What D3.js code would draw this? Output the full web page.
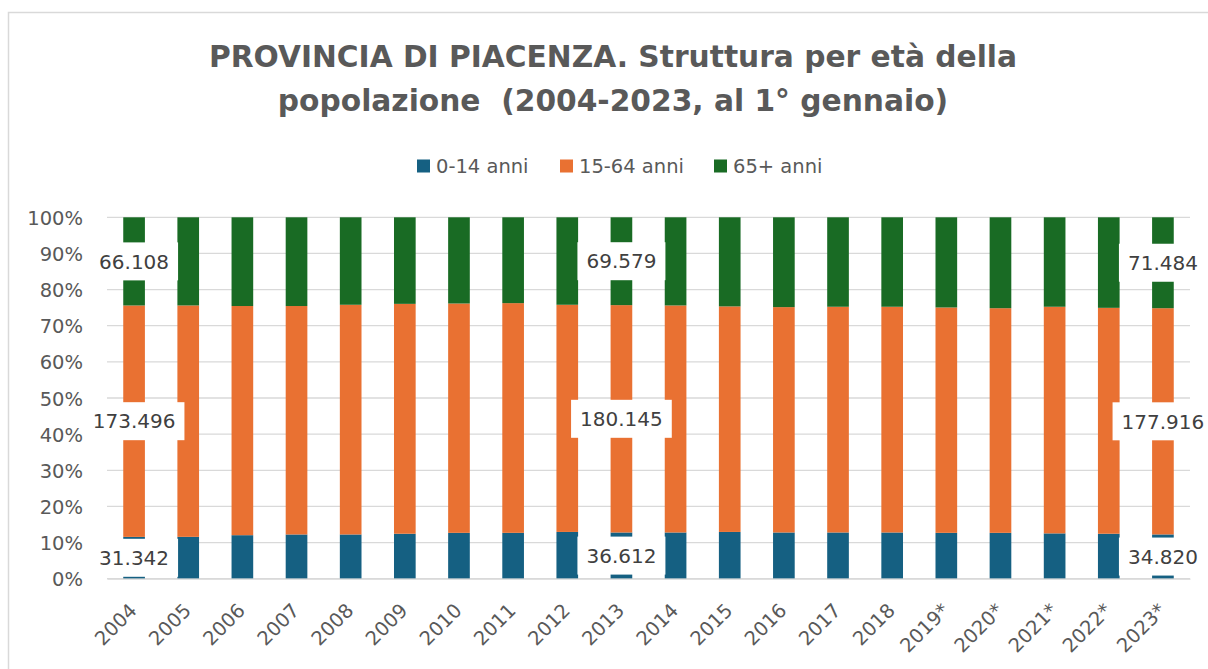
<!DOCTYPE html>
<html>
<head>
<meta charset="utf-8">
<script src="https://cdn.jsdelivr.net/npm/d3@7"></script>
<style>
  html, body { margin: 0; padding: 0; background: #ffffff; }
  svg { display: block; font-family: "DejaVu Sans", sans-serif; }
</style>
</head>
<body>
<svg id="chart" width="1208" height="669"></svg>
<script>
// ---- DATA ----
const years = ["2004","2005","2006","2007","2008","2009","2010","2011","2012","2013",
               "2014","2015","2016","2017","2018","2019*","2020*","2021*","2022*","2023*"];
const age0_14  = [31342, 31693, 33214, 34055, 34470, 35571, 36674, 36785, 36829, 36612,
                  36837, 37170, 36676, 36653, 36679, 36216, 36118, 35508, 35205, 34820];
const age15_64 = [173496, 175243, 174923, 175869, 178995, 181884, 183399, 184245, 178910, 180145,
                  180930, 179270, 178822, 178993, 179123, 177972, 176917, 177569, 176903, 177916];
const age65    = [66108, 66753, 67724, 68305, 68151, 68482, 68927, 68845, 68877, 69579,
                  70246, 70806, 71260, 70926, 70979, 71206, 71581, 70082, 70892, 71484];
const seriesNames = ["0-14 anni", "15-64 anni", "65+ anni"];
const labeledYears = ["2004", "2013", "2023*"];
const yTicks = [0, 0.1, 0.2, 0.3, 0.4, 0.5, 0.6, 0.7, 0.8, 0.9, 1.0];
const titleLines = ["PROVINCIA DI PIACENZA. Struttura per età della",
                    "popolazione  (2004-2023, al 1° gennaio)"];

// ---- SETUP ----
const colors = ["#156082", "#E97132", "#196B24"];
const textColor = "#595959";
const svg = d3.select("#chart");

// chart frame
svg.append("path")
  .attr("d", "M8.5,669 L8.5,12.5 L1208,12.5")
  .attr("fill", "none").attr("stroke", "#d9d9d9").attr("stroke-width", 1.5);

const rows = years.map((y, i) => ({ year: y, a: age0_14[i], b: age15_64[i], c: age65[i] }));
const keys = ["a", "b", "c"];
const stacked = d3.stack().keys(keys).offset(d3.stackOffsetExpand)(rows);

const x = d3.scaleBand().domain(years).range([107, 1190]).paddingInner(0.6).paddingOuter(0.3);
const y = d3.scaleLinear().domain([0, 1]).range([578.7, 217.3]);

// title
svg.append("g").selectAll("text").data(titleLines).join("text")
  .attr("x", 613).attr("y", (d, i) => 67 + i * 44)
  .attr("text-anchor", "middle")
  .attr("font-size", 29.7).attr("font-weight", "bold")
  .attr("fill", textColor)
  .style("white-space", "pre")
  .text(d => d);

// legend
const legendX = [417, 560, 714];
const lg = svg.append("g").selectAll("g").data(seriesNames).join("g")
  .attr("transform", (d, i) => `translate(${legendX[i]},0)`);
lg.append("rect").attr("x", 0).attr("y", 159.5).attr("width", 13).attr("height", 13)
  .attr("fill", (d, i) => colors[i]);
lg.append("text").attr("x", 19).attr("y", 173).attr("font-size", 19.5)
  .attr("fill", textColor).text(d => d);

// gridlines
const yAxis = d3.axisLeft(y).tickValues(yTicks).tickFormat(d3.format(".0%")).tickSize(0);
const yg = svg.append("g").attr("transform", "translate(83,0)").call(yAxis);
yg.select(".domain").remove();
yg.selectAll("text").attr("font-size", 19.5).attr("fill", textColor)
  .attr("font-family", "DejaVu Sans").attr("x", 0).attr("dy", "0.36em");

svg.append("g").selectAll("line").data(yTicks).join("line")
  .attr("x1", 107).attr("x2", 1190)
  .attr("y1", d => y(d)).attr("y2", d => y(d))
  .attr("stroke", "#d9d9d9").attr("stroke-width", 1.3);

// bars
svg.append("g").selectAll("g").data(stacked).join("g")
  .attr("fill", (d, i) => colors[i])
  .selectAll("rect").data(d => d).join("rect")
  .attr("x", d => x(d.data.year))
  .attr("width", x.bandwidth())
  .attr("y", d => y(d[1]))
  .attr("height", d => y(d[0]) - y(d[1]));

// x axis
const xAxis = d3.axisBottom(x).tickSize(0).tickSizeOuter(0);
const xg = svg.append("g").attr("transform", `translate(0,${y(0)})`).call(xAxis);
xg.select(".domain").attr("stroke", "#d9d9d9").attr("stroke-width", 1.3);
xg.selectAll("text")
  .attr("font-size", 19.5).attr("fill", textColor).attr("font-family", "DejaVu Sans")
  .attr("text-anchor", "end")
  .attr("dy", 0).attr("y", 0)
  .attr("transform", d => `translate(4,33) rotate(-45)`);

// data labels
const labelData = [];
stacked.forEach((s, si) => {
  s.forEach(d => {
    if (labeledYears.includes(d.data.year)) {
      labelData.push({
        cx: x(d.data.year) + x.bandwidth() / 2,
        cy: (y(d[0]) + y(d[1])) / 2,
        value: d.data[keys[si]]
      });
    }
  });
});
const fmt = v => d3.format(",")(v).replace(/,/g, ".");
const lbl = svg.append("g").selectAll("g").data(labelData).join("g")
  .attr("transform", d => `translate(${d.cx},${d.cy})`);
lbl.append("rect").attr("fill", "#ffffff");
lbl.append("text").attr("text-anchor", "middle").attr("dy", "0.36em")
  .attr("font-size", 20).attr("fill", "#404040").text(d => fmt(d.value));
lbl.each(function() {
  const g = d3.select(this);
  const w = g.select("text").node().getComputedTextLength() + 18;
  g.select("rect").attr("x", -w / 2).attr("y", -19).attr("width", w).attr("height", 38);
});
</script>
</body>
</html>
